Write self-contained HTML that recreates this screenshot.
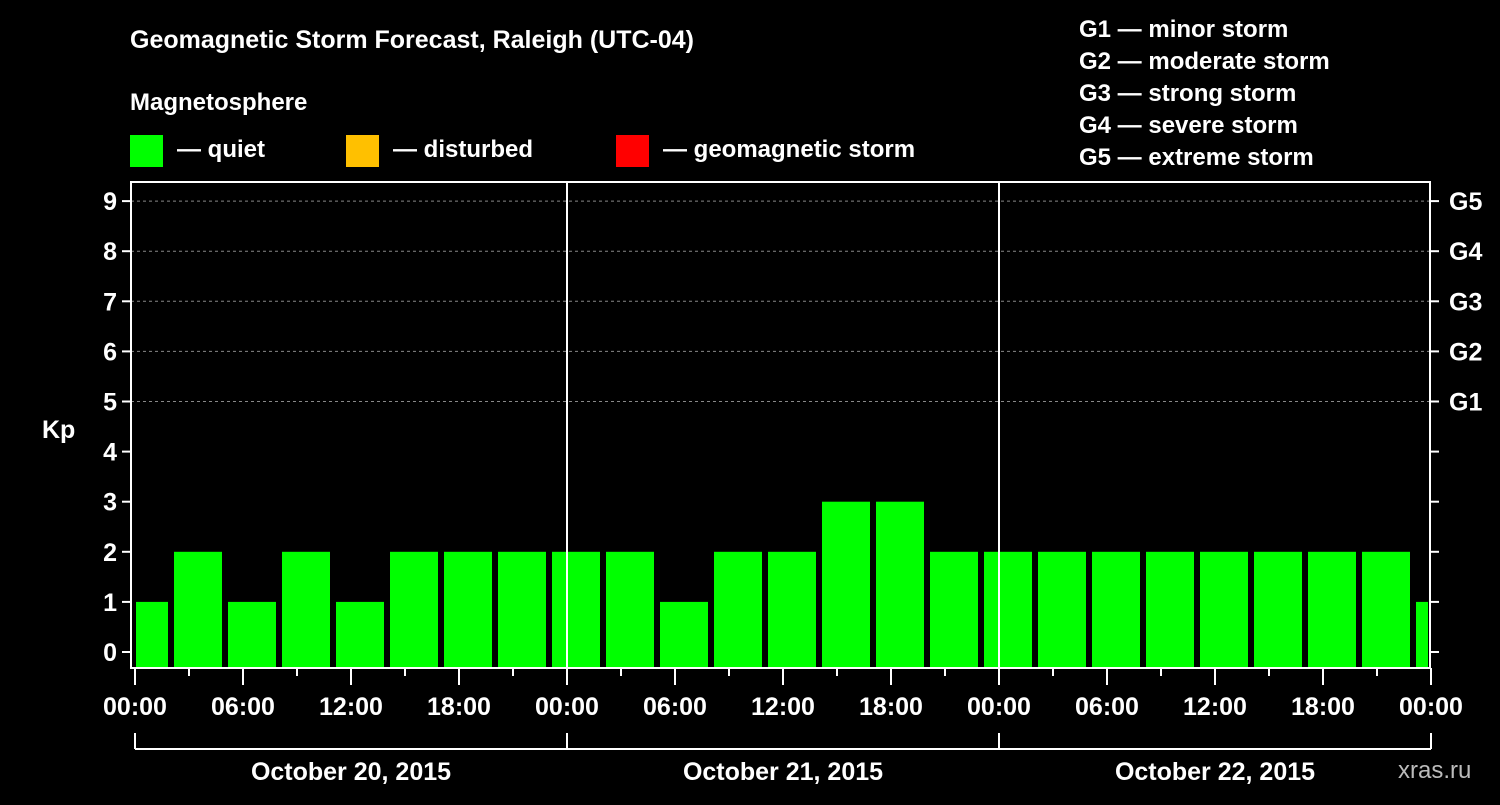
<!DOCTYPE html>
<html><head><meta charset="utf-8"><style>
body{margin:0;background:#000;width:1500px;height:800px;overflow:hidden}
svg text{font-family:"Liberation Sans",Arial,sans-serif;font-weight:bold;fill:#fff}
</style></head><body>
<svg id="c" width="1500" height="800" xmlns="http://www.w3.org/2000/svg">
<text x="130" y="48" font-size="25">Geomagnetic Storm Forecast, Raleigh (UTC-04)</text>
<text x="130" y="110" font-size="24">Magnetosphere</text>
<g><rect x="130" y="135" width="33" height="32" fill="#00ff00"/><text x="177" y="157" font-size="24">— quiet</text></g>
<g><rect x="346" y="135" width="33" height="32" fill="#ffc000"/><text x="393" y="157" font-size="24">— disturbed</text></g>
<g><rect x="616" y="135" width="33" height="32" fill="#ff0000"/><text x="663" y="157" font-size="24">— geomagnetic storm</text></g>
<g font-size="24">
<text x="1079" y="37">G1 — minor storm</text><text x="1079" y="69">G2 — moderate storm</text><text x="1079" y="101">G3 — strong storm</text><text x="1079" y="133">G4 — severe storm</text><text x="1079" y="165">G5 — extreme storm</text></g>
<text x="42" y="438" font-size="25">Kp</text>
<text x="1398" y="778" font-size="24" fill="#bbb" style="fill:#bbb;font-weight:normal">xras.ru</text>
<g id="plot"></g>
</svg>
<script>
const kpValues=[1,2,1,2,1,2,2,2,2,2,1,2,2,3,3,2,2,2,2,2,2,2,2,2,1];
const yTicks=[0,1,2,3,4,5,6,7,8,9];
const gLabels=["G1","G2","G3","G4","G5"];
const xTickLabels=["00:00","06:00","12:00","18:00","00:00","06:00","12:00","18:00","00:00","06:00","12:00","18:00","00:00"];
const dayLabels=["October 20, 2015","October 21, 2015","October 22, 2015"];
const NS="http://www.w3.org/2000/svg";
const L=131,R=1430,T=182,B=668,X0=135,PXH=18;
const x=h=>X0+h*PXH, y=v=>652-v*50.1;
const g=document.getElementById('plot');
function mk(t,a,p){const e=document.createElementNS(NS,t);for(const k in a)e.setAttribute(k,a[k]);(p||g).appendChild(e);return e;}
// grid
yTicks.forEach(v=>{if(v>=5){const l=mk('line',{x1:L,x2:R,y1:y(v),y2:y(v),stroke:'#888','stroke-dasharray':'3,3','stroke-width':1});

}});
// bars
kpValues.forEach((v,i)=>{const c=3*i+0.5;let x1=x(c-4/3),x2=x(c+4/3);x1=Math.max(x1,L+5);x2=Math.min(x2,R-2);
const col=v>=5?'#ff0000':(v>=4?'#ffc000':'#00ff00');
const r=mk('rect',{x:x1,y:y(v),width:x2-x1,height:B-1-y(v),fill:col});

});
// day separators
[24,48].forEach(h=>{const l=mk('line',{x1:x(h),x2:x(h),y1:T,y2:B,stroke:'#fff','stroke-width':2});

});
// frame
const f=mk('rect',{x:L,y:T,width:R-L,height:B-T,fill:'none',stroke:'#fff','stroke-width':2});


// y ticks
yTicks.forEach(v=>{mk('line',{x1:L-9,x2:L,y1:y(v),y2:y(v),stroke:'#fff','stroke-width':2});
mk('line',{x1:R,x2:R+9,y1:y(v),y2:y(v),stroke:'#fff','stroke-width':2});
const t=mk('text',{x:L-14,y:y(v)+9,'font-size':25,'text-anchor':'end'});t.textContent=v;

});
gLabels.forEach((s,i)=>{const t=mk('text',{x:1449,y:y(5+i)+9,'font-size':25});t.textContent=s;

});
// x ticks
for(let h=0;h<=72;h+=3){mk('line',{x1:x(h),x2:x(h),y1:B,y2:B+(h%6==0?17:8),stroke:'#fff','stroke-width':2});}
xTickLabels.forEach((s,i)=>{const t=mk('text',{x:x(i*6),y:715,'font-size':25,'text-anchor':'middle'});t.textContent=s;

});
// date brackets
mk('line',{x1:x(0),x2:x(72),y1:749,y2:749,stroke:'#fff','stroke-width':2});
[0,24,48,72].forEach(h=>mk('line',{x1:x(h),x2:x(h),y1:733,y2:749,stroke:'#fff','stroke-width':2}));
dayLabels.forEach((s,i)=>{const t=mk('text',{x:x(i*24+12),y:780,'font-size':25,'text-anchor':'middle'});t.textContent=s;

});
</script>
</body></html>
